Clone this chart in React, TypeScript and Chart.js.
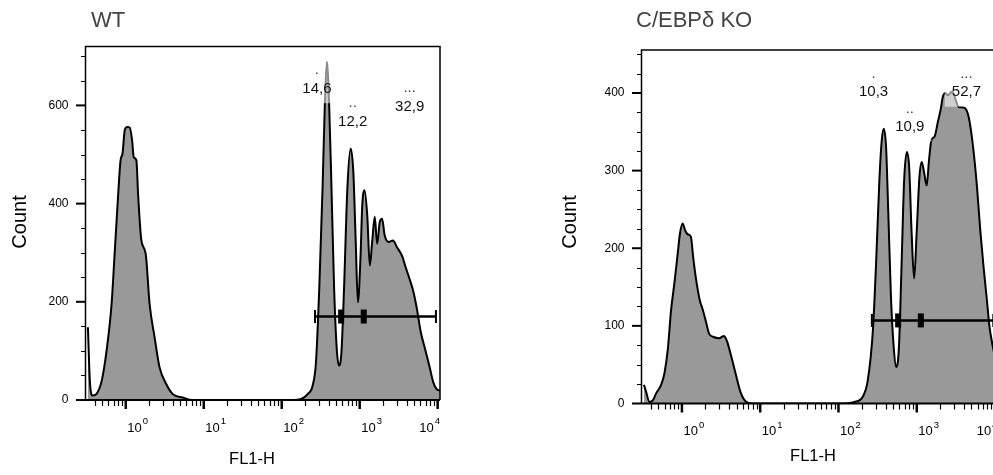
import React, { useEffect, useRef } from "react";
import { Chart, registerables } from "chart.js";

Chart.register(...registerables);

// ---------- data ----------
const X_MIN = 0.327;
const X_MAX = 10715;

const WT_FL1 = [0.327, 0.348, 0.377, 0.424, 0.491, 0.568, 0.658, 0.724, 0.8, 0.857, 0.908, 0.971, 1.042, 1.124, 1.206, 1.264, 1.368, 1.438, 1.585, 1.8, 2.02, 2.34, 2.71, 3.29, 4.01, 5.37, 7.2, 100, 132, 177, 215, 249, 275, 303, 334, 357, 379, 406, 435, 470, 508, 543, 583, 630, 695, 766, 829, 887, 949, 1026, 1079, 1154, 1250, 1349, 1446, 1561, 1675, 1808, 1939, 2094, 2354, 2676, 3008, 3483, 3950, 4353, 4894, 5408, 6081, 6894, 7818, 8790, 9710, 10715];
const WT_COUNT = [148, 33, 9, 13, 39, 101, 196, 305, 420, 488, 502, 550, 556, 555, 529, 495, 488, 420, 325, 298, 196, 128, 67, 33, 12, 5, 0, 0, 0, 2, 12, 29, 77, 227, 431, 601, 689, 601, 431, 227, 104, 70, 97, 227, 431, 512, 464, 329, 199, 294, 397, 427, 376, 274, 322, 373, 318, 362, 369, 335, 322, 325, 311, 294, 267, 247, 220, 186, 138, 104, 70, 36, 22, 19];

const KO_FL1 = [0.327, 0.344, 0.386, 0.425, 0.468, 0.542, 0.598, 0.659, 0.726, 0.801, 0.883, 0.944, 1.02, 1.1, 1.18, 1.3, 1.39, 1.5, 1.69, 1.83, 2.01, 2.22, 2.5, 2.98, 3.45, 3.8, 4.18, 4.84, 5.59, 6.47, 7.87, 100, 160, 205, 237, 275, 302, 333, 357, 379, 405, 433, 468, 507, 547, 592, 640, 690, 747, 799, 857, 925, 1000, 1082, 1157, 1238, 1339, 1432, 1536, 1691, 1862, 2014, 2153, 2332, 2495, 2834, 3436, 4058, 4602, 5233, 5880, 6475, 7129, 7870, 8492, 9376, 10715];
const KO_COUNT = [24, 17, 2, 4, 13, 24, 39, 69, 120, 155, 193, 219, 232, 223, 218, 215, 189, 163, 133, 122, 107, 90, 86, 84, 87, 79, 64, 39, 15, 3, 0, 0, 2, 9, 30, 94, 180, 288, 339, 354, 331, 245, 137, 73, 47, 73, 180, 288, 324, 305, 223, 161, 223, 292, 311, 298, 281, 313, 339, 344, 363, 378, 395, 400, 397, 402, 382, 381, 369, 331, 279, 223, 176, 133, 99, 73, 45];

const X_MAJOR = [1, 10, 100, 1000, 10000];
const X_MAJOR_EXP = ["0", "1", "2", "3", "4"];

const WT_Y_MAJOR = [0, 200, 400, 600];
const WT_Y_MINOR = [50, 100, 150, 250, 300, 350, 450, 500, 550, 650, 700];
const KO_Y_MAJOR = [0, 100, 200, 300, 400];
const KO_Y_MINOR = [25, 50, 75, 125, 150, 175, 225, 250, 275, 325, 350, 375, 425, 450];

const GATE_BOUNDS = [267, 578, 1127, 9500];
const GATE_NAMES = [".", "..", "..."];
const WT_GATE_Y = 170;
const KO_GATE_Y = 107;

const WT_LABELS = ["14,6", "12,2", "32,9"];
const WT_LABEL_X = [283, 813, 4375];
const WT_LABEL_Y = [634, 567, 598];
const KO_LABELS = ["10,3", "10,9", "52,7"];
const KO_LABEL_X = [281, 815, 4303];
const KO_LABEL_Y = [401, 356, 401];

const FONT = "'Liberation Sans', Arial, Helvetica, sans-serif";

type PanelCfg = {
  key: string;
  title: string;
  fl1: number[];
  count: number[];
  yMax: number;
  yMajor: number[];
  yMinor: number[];
  gateY: number;
  labels: string[];
  labelX: number[];
  labelY: number[];
  left: number;
  width: number;
  padding: { left: number; right: number; top: number; bottom: number };
  titleX: number;
  countX: number;
  xLabelX: number;
  xLabelY: number;
};

function minorXTicks(): number[] {
  const out: number[] = [];
  for (let e = -1; e <= 4; e++) {
    for (let m = 2; m <= 9; m++) {
      const v = m * Math.pow(10, e);
      if (v > X_MIN && v < X_MAX) out.push(v);
    }
  }
  return out;
}

function makePlugin(p: PanelCfg) {
  return {
    id: "flow-" + p.key,
    afterDatasetsDraw(chart: any) {
      const ctx: CanvasRenderingContext2D = chart.ctx;
      const xs = chart.scales.x;
      const ys = chart.scales.y;
      ctx.save();
      // gate bars
      const gy = ys.getPixelForValue(p.gateY);
      const gx = GATE_BOUNDS.map((v) => xs.getPixelForValue(v));
      ctx.strokeStyle = "#000";
      ctx.lineWidth = 2.5;
      ctx.beginPath();
      ctx.moveTo(gx[0], gy);
      ctx.lineTo(gx[3], gy);
      ctx.stroke();
      ctx.lineWidth = 2;
      [gx[0], gx[3]].forEach((g) => {
        ctx.beginPath();
        ctx.moveTo(g, gy - 6.5);
        ctx.lineTo(g, gy + 6.5);
        ctx.stroke();
      });
      ctx.fillStyle = "#000";
      [gx[1], gx[2]].forEach((g) => ctx.fillRect(g - 3, gy - 7, 6, 14));

      // gate labels with translucent boxes
      ctx.font = `15px ${FONT}`;
      p.labels.forEach((t, i) => {
        const cx = xs.getPixelForValue(p.labelX[i]);
        const cy = ys.getPixelForValue(p.labelY[i]);
        const w = ctx.measureText(t).width;
        ctx.fillStyle = "rgba(255,255,255,0.55)";
        ctx.fillRect(cx - w / 2 - 7, cy - 29, w + 14, 43.5);
        ctx.fillStyle = "#111";
        ctx.textAlign = "center";
        ctx.textBaseline = "middle";
        ctx.fillText(t, cx, cy);
        ctx.fillStyle = "#444";
        ctx.textBaseline = "alphabetic";
        ctx.fillText(GATE_NAMES[i], cx, cy - 14.5);
      });
      ctx.restore();
    },
    afterDraw(chart: any) {
      const ctx: CanvasRenderingContext2D = chart.ctx;
      const a = chart.chartArea;
      const xs = chart.scales.x;
      const ys = chart.scales.y;
      ctx.save();
      ctx.strokeStyle = "#000";
      // frame
      ctx.lineWidth = 1.5;
      ctx.beginPath();
      ctx.moveTo(a.left + 0.5, a.bottom);
      ctx.lineTo(a.left + 0.5, a.top + 0.5);
      ctx.lineTo(a.right, a.top + 0.5);
      ctx.lineTo(a.right, a.bottom);
      ctx.stroke();
      ctx.lineWidth = 2;
      ctx.beginPath();
      ctx.moveTo(a.left, a.bottom);
      ctx.lineTo(a.right, a.bottom);
      ctx.stroke();

      // y ticks
      ctx.lineWidth = 1;
      p.yMinor.forEach((v) => {
        const py = Math.round(ys.getPixelForValue(v)) + 0.5;
        ctx.beginPath();
        ctx.moveTo(a.left - 4, py);
        ctx.lineTo(a.left, py);
        ctx.stroke();
      });
      ctx.lineWidth = 2;
      ctx.fillStyle = "#000";
      ctx.font = `12px ${FONT}`;
      ctx.textAlign = "right";
      ctx.textBaseline = "middle";
      p.yMajor.forEach((v) => {
        const py = ys.getPixelForValue(v);
        ctx.beginPath();
        ctx.moveTo(a.left - 9, py);
        ctx.lineTo(a.left, py);
        ctx.stroke();
        ctx.fillText(String(v), a.left - 16.5, py);
      });

      // x ticks
      ctx.lineWidth = 1.2;
      minorXTicks().forEach((v) => {
        const px = Math.round(xs.getPixelForValue(v)) + 0.5;
        ctx.beginPath();
        ctx.moveTo(px, a.bottom);
        ctx.lineTo(px, a.bottom + 6);
        ctx.stroke();
      });
      ctx.lineWidth = 2.5;
      ctx.textAlign = "left";
      ctx.textBaseline = "alphabetic";
      X_MAJOR.forEach((v, i) => {
        const px = xs.getPixelForValue(v);
        ctx.beginPath();
        ctx.moveTo(px, a.bottom);
        ctx.lineTo(px, a.bottom + 9);
        ctx.stroke();
        ctx.font = `13px ${FONT}`;
        const w1 = ctx.measureText("10").width;
        ctx.font = `9.5px ${FONT}`;
        const w2 = ctx.measureText(X_MAJOR_EXP[i]).width;
        let lx = px + 1.5;
        if (lx + w1 + w2 + 1 > a.right) lx = a.right - (w1 + w2 + 1);
        ctx.font = `13px ${FONT}`;
        ctx.fillText("10", lx, a.bottom + 31.5);
        ctx.font = `9.5px ${FONT}`;
        ctx.fillText(X_MAJOR_EXP[i], lx + w1 + 1, a.bottom + 24);
      });

      // title
      ctx.fillStyle = "#444";
      ctx.font = `22px ${FONT}`;
      ctx.textAlign = "left";
      ctx.fillText(p.title, p.titleX, 26.5);

      // axis titles
      ctx.fillStyle = "#000";
      ctx.font = `16.5px ${FONT}`;
      ctx.textAlign = "center";
      ctx.textBaseline = "middle";
      ctx.fillText("FL1-H", p.xLabelX, p.xLabelY);

      ctx.save();
      ctx.translate(p.countX, 222);
      ctx.rotate(-Math.PI / 2);
      ctx.font = `20px ${FONT}`;
      ctx.fillText("Count", 0, 0);
      ctx.restore();

      ctx.restore();
    },
  };
}

function Panel({ p }: { p: PanelCfg }) {
  const ref = useRef<HTMLCanvasElement | null>(null);
  useEffect(() => {
    if (!ref.current) return;
    const pts = p.fl1.map((x, i) => ({ x, y: p.count[i] }));
    const chart = new Chart(ref.current, {
      type: "line",
      data: {
        datasets: [
          {
            data: pts,
            fill: "origin",
            backgroundColor: "#999999",
            borderColor: "#000000",
            borderWidth: 2,
            pointRadius: 0,
            cubicInterpolationMode: "monotone",
          } as any,
        ],
      },
      options: {
        animation: false,
        responsive: false,
        maintainAspectRatio: false,
        events: [],
        layout: { padding: p.padding },
        plugins: {
          legend: { display: false },
          tooltip: { enabled: false },
          title: { display: false },
        },
        scales: {
          x: { type: "logarithmic", min: X_MIN, max: X_MAX, display: false },
          y: { type: "linear", min: 0, max: p.yMax, display: false },
        },
      },
      plugins: [makePlugin(p) as any],
    });
    return () => chart.destroy();
  }, [p]);
  return (
    <canvas
      ref={ref}
      width={p.width}
      height={475}
      style={{ position: "absolute", left: p.left, top: 0, width: p.width, height: 475 }}
    />
  );
}

const WT_PANEL: PanelCfg = {
  key: "wt",
  title: "WT",
  fl1: WT_FL1,
  count: WT_COUNT,
  yMax: 721,
  yMajor: WT_Y_MAJOR,
  yMinor: WT_Y_MINOR,
  gateY: WT_GATE_Y,
  labels: WT_LABELS,
  labelX: WT_LABEL_X,
  labelY: WT_LABEL_Y,
  left: 0,
  width: 470,
  padding: { left: 85, right: 30, top: 46, bottom: 75 },
  titleX: 91,
  countX: 20,
  xLabelX: 252,
  xLabelY: 459,
};

const KO_PANEL: PanelCfg = {
  key: "ko",
  title: "C/EBPδ KO",
  fl1: KO_FL1,
  count: KO_COUNT,
  yMax: 456,
  yMajor: KO_Y_MAJOR,
  yMinor: KO_Y_MINOR,
  gateY: KO_GATE_Y,
  labels: KO_LABELS,
  labelX: KO_LABEL_X,
  labelY: KO_LABEL_Y,
  left: 490,
  width: 520,
  padding: { left: 151, right: 12.6, top: 49.5, bottom: 71.5 },
  titleX: 146,
  countX: 80.5,
  xLabelX: 323,
  xLabelY: 456,
};

export default function App() {
  return (
    <div
      style={{
        position: "fixed",
        left: 0,
        top: 0,
        width: 993,
        height: 475,
        overflow: "hidden",
        background: "#fff",
      }}
    >
      <Panel p={WT_PANEL} />
      <Panel p={KO_PANEL} />
    </div>
  );
}
